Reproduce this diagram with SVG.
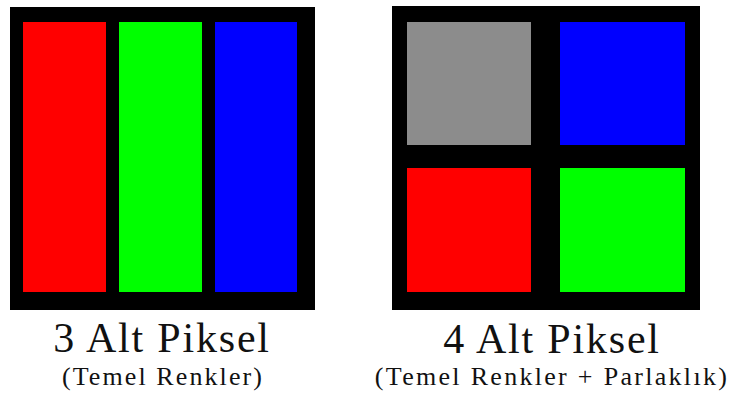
<svg xmlns="http://www.w3.org/2000/svg" width="732" height="397" viewBox="0 0 732 397">
<style>
.frame{fill:#000}
.t1{font-family:'Liberation Serif',serif;font-size:42px;fill:#111;text-anchor:middle;letter-spacing:1.8px}
.t2{font-family:'Liberation Serif',serif;font-size:26px;fill:#111;text-anchor:middle}
</style>
<rect width="732" height="397" fill="#fff"/>
<g id="pixel3">
<rect class="frame" x="10" y="7" width="305" height="303"/>
<rect x="23" y="22" width="83" height="270" fill="#ff0000"/>
<rect x="119" y="22" width="83" height="270" fill="#00ff00"/>
<rect x="215" y="22" width="82" height="270" fill="#0000ff"/>
<text class="t1" x="162" y="352">3 Alt Piksel</text>
<text class="t2" x="163" y="385" style="letter-spacing:2.1px">(Temel Renkler)</text>
</g>
<g id="pixel4">
<rect class="frame" x="392" y="6" width="308" height="304"/>
<rect x="407" y="22" width="124" height="123" fill="#8c8c8c"/>
<rect x="560" y="22" width="125" height="123" fill="#0000ff"/>
<rect x="407" y="168" width="124" height="124" fill="#ff0000"/>
<rect x="560" y="168" width="125" height="124" fill="#00ff00"/>
<text class="t1" x="552" y="353">4 Alt Piksel</text>
<text class="t2" x="552" y="385" style="letter-spacing:2.3px">(Temel Renkler + Parlaklık)</text>
</g>
</svg>
